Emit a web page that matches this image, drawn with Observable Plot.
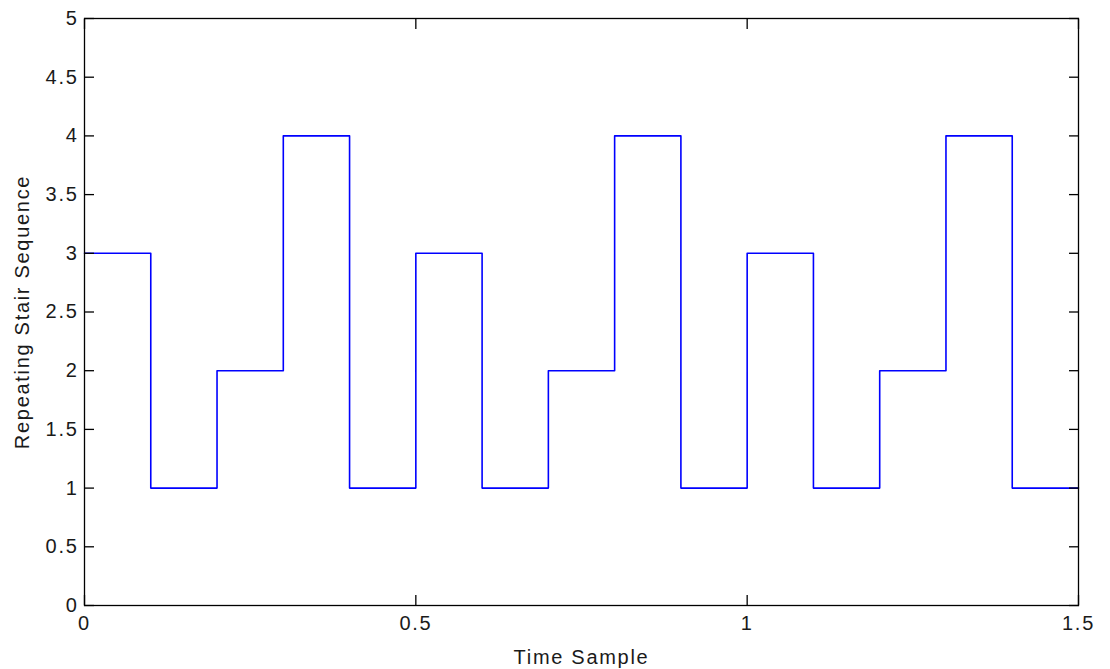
<!DOCTYPE html>
<html>
<head>
<meta charset="utf-8">
<script src="https://cdn.jsdelivr.net/npm/d3@7"></script>
<script src="https://cdn.jsdelivr.net/npm/@observablehq/plot@0.6"></script>
<style>
  html, body { margin: 0; padding: 0; background: #fff; }
  #chart svg { display: block; }
</style>
</head>
<body>
<div id="chart"></div>
<script>
// Sample times (seconds) and the repeating stair sequence value held from each time
const times  = [0, 0.1, 0.2, 0.3, 0.4, 0.5, 0.6, 0.7, 0.8, 0.9, 1.0, 1.1, 1.2, 1.3, 1.4, 1.5];
const values = [3, 1, 2, 4, 1, 3, 1, 2, 4, 1, 3, 1, 2, 4, 1, 1];
const xTicks = [0, 0.5, 1, 1.5];
const yTicks = [0, 0.5, 1, 1.5, 2, 2.5, 3, 3.5, 4, 4.5, 5];
const xLabel = "Time Sample";
const yLabel = "Repeating Stair Sequence";

const data = times.map((t, i) => ({t, v: values[i]}));

const chart = Plot.plot({
  width: 1110,
  height: 669,
  marginLeft: 84,
  marginRight: 32,
  marginTop: 18,
  marginBottom: 64,
  style: {fontFamily: "'Liberation Sans', Arial, sans-serif", fontSize: "20px", color: "#000", background: "#fff", letterSpacing: "1.7px"},
  x: {domain: [0, 1.5]},
  y: {domain: [0, 5]},
  marks: [
    Plot.lineY(data, {x: "t", y: "v", curve: "step-after", stroke: "#0000ff", strokeWidth: 1.6}),
    // inward ticks on all four sides
    Plot.axisX(xTicks, {anchor: "bottom", tickSize: -10, tickFormat: () => "", label: null, strokeWidth: 1.3, stroke: "#000"}),
    Plot.axisX(xTicks, {anchor: "top", tickSize: -10, tickFormat: () => "", label: null, strokeWidth: 1.3, stroke: "#000"}),
    Plot.axisY(yTicks, {anchor: "left", tickSize: -10, tickFormat: () => "", label: null, strokeWidth: 1.3, stroke: "#000"}),
    Plot.axisY(yTicks, {anchor: "right", tickSize: -10, tickFormat: () => "", label: null, strokeWidth: 1.3, stroke: "#000"}),
    // tick labels and axis titles
    Plot.axisX(xTicks, {anchor: "bottom", tickSize: 0, tickPadding: 10, tickFormat: d => String(d), label: xLabel, labelAnchor: "center", labelArrow: "none", labelOffset: 58, fill: "#1a1a1a"}),
    Plot.axisY(yTicks, {anchor: "left", tickSize: 0, tickPadding: 6, tickFormat: d => String(d), label: yLabel, labelAnchor: "center", labelArrow: "none", labelOffset: 70, fill: "#1a1a1a"}),
    Plot.frame({stroke: "#000", strokeWidth: 1.3})
  ]
});
document.getElementById("chart").appendChild(chart);
</script>
</body>
</html>
